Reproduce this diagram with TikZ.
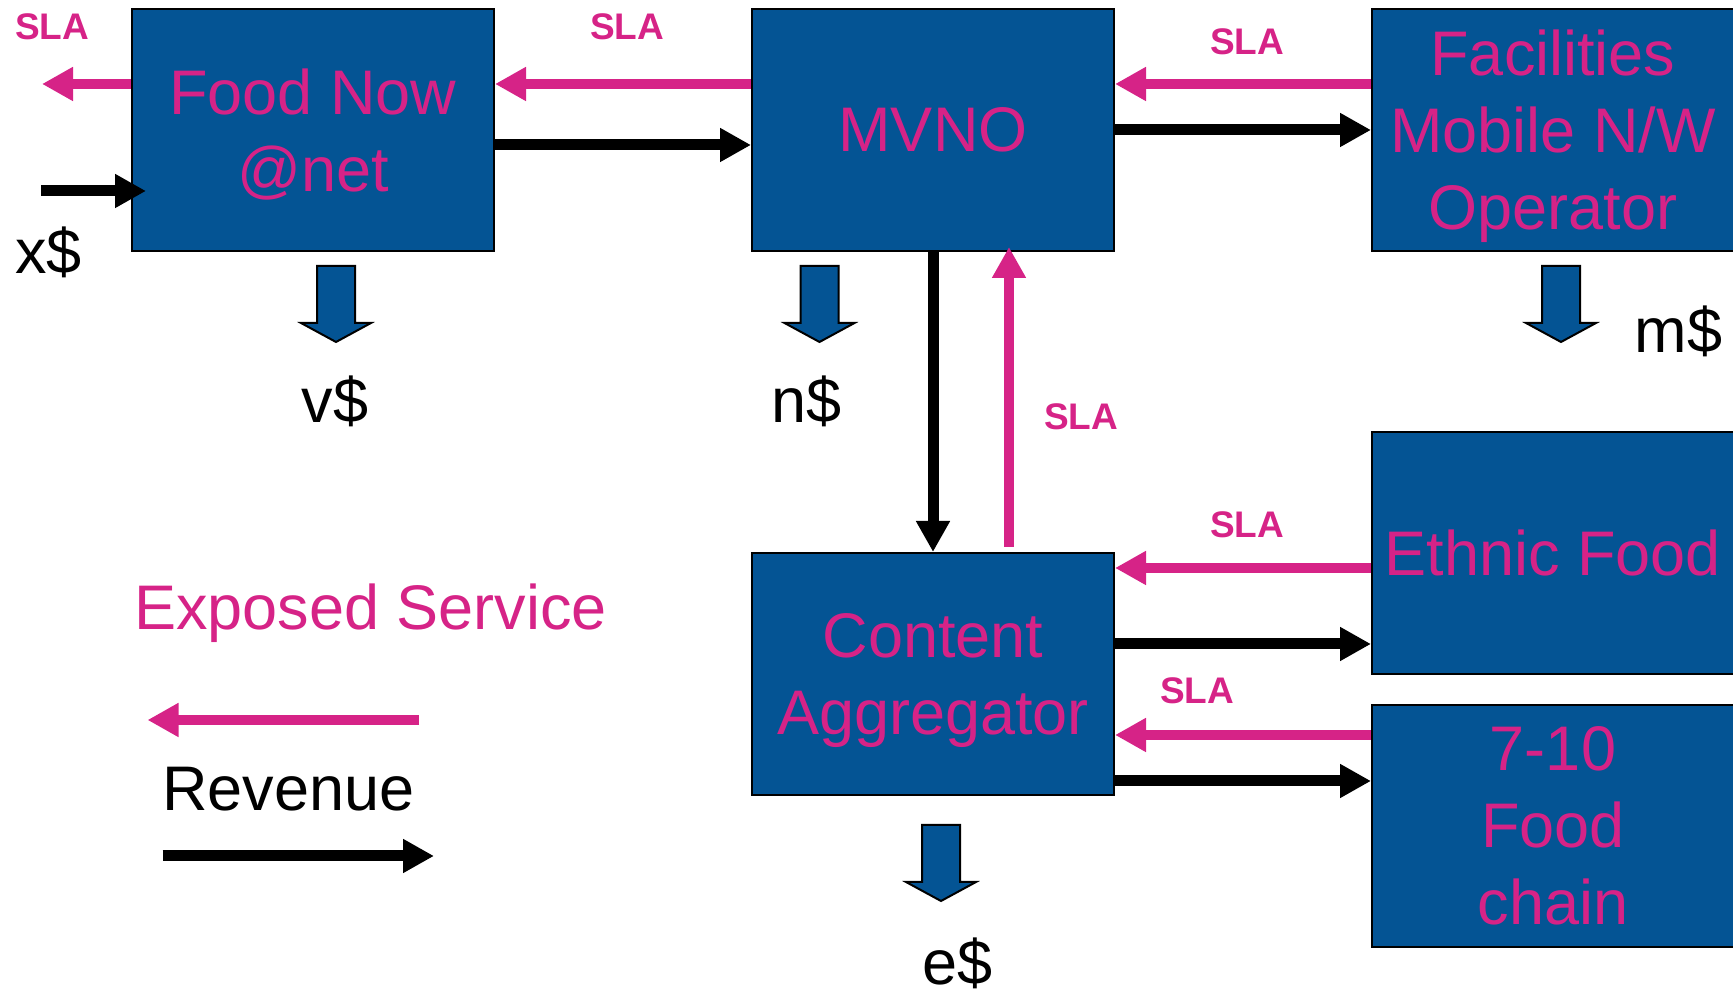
\documentclass[tikz,border=0pt]{standalone}
\usepackage{fontspec}
\setmainfont{Liberation Sans}
\usepackage{tikz}
\usetikzlibrary{arrows.meta}
\definecolor{boxblue}{RGB}{4,84,148}
\definecolor{slapink}{RGB}{214,35,135}

\begin{document}
\begin{tikzpicture}[x=1pt,y=1pt,
  player/.style={draw=black,line width=2pt,fill=boxblue,text=slapink,
    minimum width=362pt,minimum height=242pt,inner sep=0pt,align=center,
    text depth=0pt,font=\fontsize{63}{77}\selectfont},
  sla/.style={draw=slapink,line width=10pt,-{Triangle[length=31pt,width=32pt]}},
  revenue/.style={draw=black,line width=11pt,-{Triangle[length=31pt,width=32pt]}},
  slatag/.style={text=slapink,font=\fontsize{37}{37}\selectfont\bfseries,anchor=base,inner sep=0pt},
  cash/.style={font=\fontsize{63}{63}\selectfont,anchor=base,inner sep=0pt}]
  \useasboundingbox (0,0) rectangle (1733,995);
%  \draw[help lines] (0,0) grid[step=100] (1733,995);
  \def\cashdown{
    \draw[fill=boxblue,line width=2pt,line join=miter]
      (-19,0) -- (-19,-57) -- (-35,-57) -- (0,-76) -- (35,-57) -- (19,-57) -- (19,0) -- cycle;
  }

  \node[player] (food)   at (313,865)  {Food Now\\@net};
  \node[player] (mvno)   at (933,865)  {MVNO};
  \node[player] (fac)    at (1553,865) {Facilities\\Mobile N/W\\Operator};
  \node[player] (agg)    at (933,321)  {Content\\Aggregator};
  \node[player] (ethnic) at (1553,442) {Ethnic Food};
  \node[player] (chain)  at (1553,169) {7-10\\Food\\chain};

  % top row
  \coordinate (slaout) at (42,911);
  \coordinate (payin)  at (41,804);
  \draw[sla] ([yshift=46pt]food.west) -- (slaout);
  \draw[revenue] (payin) -- ([xshift=15pt,yshift=-61pt]food.west);
  \draw[sla] ([yshift=46pt]mvno.west) -- ([yshift=46pt]food.east);
  \draw[revenue] ([yshift=-15pt]food.east) -- ([yshift=-15pt]mvno.west);
  \draw[sla] ([yshift=46pt]fac.west) -- ([yshift=46pt]mvno.east);
  \draw[revenue] (mvno.east) -- (fac.west);

  % down to the aggregator
  \draw[revenue] (mvno.south) -- (agg.north);
  \draw[sla] ([xshift=76pt,yshift=5pt]agg.north) -- ([xshift=76pt,yshift=5pt]mvno.south);
  \draw[sla] ([yshift=-15pt]ethnic.west) -- ([yshift=-15pt]ethnic.west -| agg.east);
  \draw[revenue] ([yshift=30pt]agg.east) -- ([yshift=30pt]agg.east -| ethnic.west);
  \draw[sla] ([yshift=91pt]chain.west) -- ([yshift=91pt]chain.west -| agg.east);
  \draw[revenue] ([yshift=-107pt]agg.east) -- ([yshift=-107pt]agg.east -| chain.west);

  \node[slatag] (slaA) at (52,955)   {SLA};
  \node[slatag] (slaB) at (627,955)  {SLA};
  \node[slatag] (slaC) at (1247,940) {SLA};
  \node[slatag] (slaD) at (1081,565) {SLA};
  \node[slatag] (slaE) at (1247,457) {SLA};
  \node[slatag] (slaF) at (1197,291) {SLA};

  % revenue shares
  \begin{scope}[shift={(336,729)}]   \cashdown \end{scope}
  \begin{scope}[shift={(819.5,729)}] \cashdown \end{scope}
  \begin{scope}[shift={(1561,729)}]  \cashdown \end{scope}
  \begin{scope}[shift={(941,170)}]   \cashdown \end{scope}
  \node[cash] (xpay) at (48.5,721.7) {x\$};
  \node[cash] (vpay) at (335,572.3)  {v\$};
  \node[cash] (npay) at (807,572.3)  {n\$};
  \node[cash] (mpay) at (1678.5,642.3) {m\$};
  \node[cash] (epay) at (958,10)     {e\$};

  % key
  \node[cash,anchor=base west,text=slapink] (exposed) at (134,365) {Exposed Service};
  \coordinate (keyslaA) at (419,275);
  \coordinate (keyslaB) at (147.5,275);
  \draw[sla] (keyslaA) -- (keyslaB);
  \node[cash,anchor=base west] (revkey) at (162,184.3) {Revenue};
  \coordinate (keyrevA) at (162.5,139);
  \coordinate (keyrevB) at (434,139);
  \draw[revenue] (keyrevA) -- (keyrevB);
\end{tikzpicture}
\end{document}
